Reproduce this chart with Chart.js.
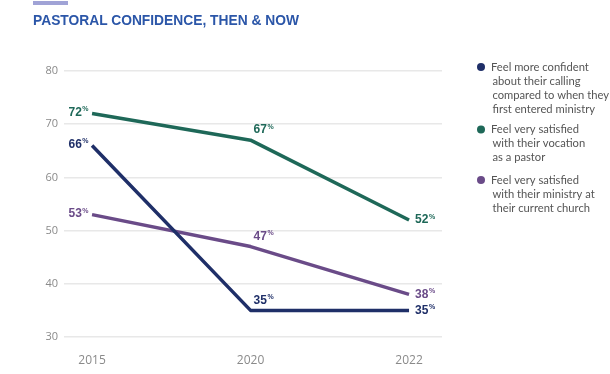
<!DOCTYPE html>
<html>
<head>
<meta charset="utf-8">
<script src="https://cdn.jsdelivr.net/npm/chart.js@4.4.1/dist/chart.umd.min.js"></script>
<style>
  html, body { margin: 0; padding: 0; background: #fff; }
  #wrap { position: relative; width: 610px; height: 374px; }
  #bar { position: absolute; left: 33px; top: 1px; width: 35px; height: 4px; background: #a0a3d6; }
  #title { position: absolute; left: 33px; top: 13px; font: bold 13.8px "Liberation Sans", Arial, sans-serif; color: #2b56a8; white-space: nowrap; }
  canvas { position: absolute; left: 0; top: 0; }
</style>
</head>
<body>
<div id="wrap">
  <canvas id="chart" width="610" height="374"></canvas>
  <div id="bar"></div>
  <div id="title">PASTORAL CONFIDENCE, THEN &amp; NOW</div>
</div>
<script>
const years = ['2015', '2020', '2022'];
const yTicks = [30, 40, 50, 60, 70, 80];
const confident = [66, 35, 35];
const vocation = [72, 67, 52];
const ministry = [53, 47, 38];
const seriesNames = [
  'Feel more confident\nabout their calling\ncompared to when they\nfirst entered ministry',
  'Feel very satisfied\nwith their vocation\nas a pastor',
  'Feel very satisfied\nwith their ministry at\ntheir current church'
];
const seriesColors = ['#1f2f68', '#1e6858', '#6a4b88'];

const toPoints = arr => arr.map((v, i) => ({ x: i, y: v }));

// value labels: bold number with small % next to each point
const valueLabels = {
  id: 'valueLabels',
  afterDatasetsDraw(chart) {
    const ctx = chart.ctx;
    ctx.save();
    ctx.textBaseline = 'middle';
    chart.data.datasets.forEach((ds, di) => {
      const meta = chart.getDatasetMeta(di);
      meta.data.forEach((pt, i) => {
        const num = String(ds.data[i].y);
        ctx.font = 'bold 12px "Liberation Sans", Arial, sans-serif';
        const wNum = ctx.measureText(num).width;
        ctx.font = 'bold 7px "Liberation Sans", Arial, sans-serif';
        const wPct = ctx.measureText('%').width;
        let x, y;
        if (i === 0) { x = pt.x - 4 - wNum - wPct; y = pt.y - 1; }
        else if (i === years.length - 1) { x = pt.x + 6; y = pt.y; }
        else { x = pt.x + 3; y = pt.y - 10; }
        ctx.fillStyle = ds.borderColor;
        ctx.textAlign = 'left';
        ctx.font = 'bold 12px "Liberation Sans", Arial, sans-serif';
        ctx.fillText(num, x, y);
        ctx.font = 'bold 7px "Liberation Sans", Arial, sans-serif';
        ctx.fillText('%', x + wNum + 0.5, y - 3);
      });
    });
    ctx.restore();
  }
};

// legend on the right, multi-line entries
const sideLegend = {
  id: 'sideLegend',
  afterDraw(chart) {
    const ctx = chart.ctx;
    ctx.save();
    ctx.font = '11.2px Lato, sans-serif';
    ctx.textBaseline = 'middle';
    ctx.textAlign = 'left';
    const starts = [67, 129.5, 180];
    const lh = 14;
    chart.data.datasets.forEach((ds, di) => {
      const lines = seriesNames[di].split('\n');
      const y0 = starts[di];
      ctx.fillStyle = ds.borderColor;
      ctx.beginPath();
      ctx.arc(481, y0, 4, 0, Math.PI * 2);
      ctx.fill();
      ctx.fillStyle = '#555';
      lines.forEach((ln, li) => {
        ctx.fillText(ln, li === 0 ? 491 : 492.5, y0 + li * lh);
      });
    });
    ctx.restore();
  }
};

new Chart(document.getElementById('chart'), {
  type: 'line',
  data: {
    datasets: [
      { label: seriesNames[0], data: toPoints(confident), borderColor: seriesColors[0] },
      { label: seriesNames[1], data: toPoints(vocation), borderColor: seriesColors[1] },
      { label: seriesNames[2], data: toPoints(ministry), borderColor: seriesColors[2] }
    ].map(d => Object.assign(d, { borderWidth: 3.5, pointRadius: 0, tension: 0, borderJoinStyle: 'round', borderCapStyle: 'butt' }))
  },
  options: {
    responsive: false,
    animation: false,
    layout: { padding: { left: 34, right: 168, top: 71, bottom: 0 } },
    plugins: { legend: { display: false }, tooltip: { enabled: false } },
    scales: {
      x: {
        type: 'linear',
        min: -0.177,
        max: 2.208,
        afterBuildTicks: s => { s.ticks = years.map((_, i) => ({ value: i })); },
        afterFit: s => { s.height = 37; },
        grid: { display: false },
        border: { display: false },
        ticks: {
          padding: 8,
          color: '#8a8a8a',
          font: { family: '"Open Sans", sans-serif', size: 12 },
          callback: v => years[v]
        }
      },
      y: {
        min: 30,
        max: 80,
        afterBuildTicks: s => { s.ticks = yTicks.map(v => ({ value: v })); },
        afterFit: s => { s.width = 30; },
        grid: { color: '#e8e8e8', lineWidth: 1.5, drawTicks: false },
        border: { display: false },
        ticks: {
          padding: 6,
          color: '#8a8a8a',
          font: { family: '"Open Sans", sans-serif', size: 11 }
        }
      }
    }
  },
  plugins: [valueLabels, sideLegend]
});
</script>
</body>
</html>
